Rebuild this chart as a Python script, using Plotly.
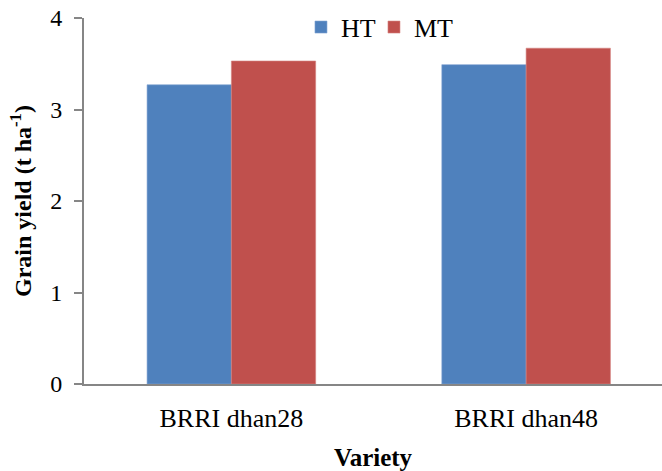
import plotly.graph_objects as go

categories = ["BRRI dhan28", "BRRI dhan48"]
ht_values = [3.27, 3.49]
mt_values = [3.53, 3.67]
y_ticks = [0, 1, 2, 3, 4]
series_names = ["HT", "MT"]

FONT = "Liberation Serif"

fig = go.Figure()
fig.add_trace(go.Bar(name=series_names[0], x=categories, y=ht_values,
                     legend="legend", showlegend=True,
                     marker=dict(color="#4F81BD", line=dict(color="#7FA3D2", width=0.6))))
fig.add_trace(go.Bar(name=series_names[1], x=categories, y=mt_values,
                     legend="legend2", showlegend=True,
                     marker=dict(color="#C0504D", line=dict(color="#D58482", width=0.6))))

legend_style = dict(orientation="h", yanchor="middle", y=0.975, xanchor="left",
                    font=dict(family=FONT, size=26), bgcolor="rgba(0,0,0,0)",
                    itemwidth=30, visible=True)

fig.update_layout(
    width=662, height=471,
    margin=dict(l=84, r=0, t=18, b=87, autoexpand=False),
    paper_bgcolor="white", plot_bgcolor="white",
    barmode="group", bargap=0.428, bargroupgap=0,
    font=dict(family=FONT, size=24, color="black"),
    showlegend=True,
    legend=dict(x=0.3754, **legend_style),
    legend2=dict(x=0.5017, **legend_style),
    xaxis=dict(
        range=[-0.5, 1.461], showline=True, linecolor="#868686", linewidth=2,
        ticks="", showgrid=False, zeroline=False, automargin=False,
        tickfont=dict(family=FONT, size=26), ticklabelstandoff=10,
        ticklabeloverflow="allow",
        title=dict(text="<b>Variety</b>", font=dict(family=FONT, size=25), standoff=17),
    ),
    yaxis=dict(
        range=[0, 4], tickvals=y_ticks, showline=True, linecolor="#868686", linewidth=2,
        ticks="outside", ticklen=8, tickwidth=2, tickcolor="#868686",
        showgrid=False, zeroline=False, automargin=False,
        tickfont=dict(family=FONT, size=24), ticklabelstandoff=7,
        ticklabeloverflow="allow",
        title=dict(text="<b>Grain yield (t ha<sup>-1</sup>)</b>",
                   font=dict(family=FONT, size=24), standoff=12),
    ),
)

fig.write_html("out.html", config={"displayModeBar": False},
               post_script="document.body.style.margin='0';")
